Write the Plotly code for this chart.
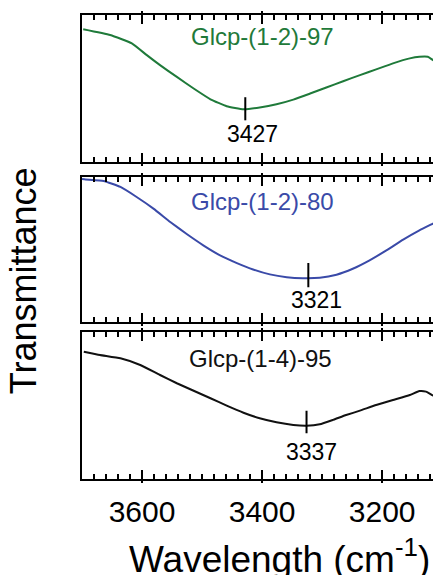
import plotly.graph_objects as go

# ---- data ----
wn_97 = [3698, 3653, 3617, 3592, 3570, 3542, 3514, 3486, 3459, 3431, 3404, 3376,
         3348, 3320, 3293, 3265, 3237, 3210, 3182, 3154, 3138, 3124, 3113, 3103]
t_97 = [90.3, 86.4, 80.7, 72.7, 65.9, 57.9, 50.0, 42.7, 38.0, 35.9, 37.1, 39.3,
        42.5, 46.6, 50.7, 55.0, 59.1, 63.0, 67.1, 70.5, 71.6, 71.6, 68.8, 68.2]

wn_80 = [3700, 3694, 3664, 3636, 3609, 3581, 3553, 3525, 3498, 3470, 3442, 3415,
         3387, 3359, 3332, 3304, 3276, 3249, 3221, 3193, 3165, 3138, 3110, 3103]
t_80 = [98.5, 98.2, 97.2, 93.1, 86.2, 78.2, 69.0, 60.5, 52.9, 46.0, 40.7, 36.3,
        32.9, 31.0, 30.3, 30.6, 32.7, 36.8, 42.6, 49.4, 56.8, 63.2, 69.0, 70.6]

wn_95 = [3697, 3670, 3636, 3603, 3570, 3542, 3514, 3486, 3459, 3431, 3404, 3376,
         3348, 3326, 3304, 3282, 3260, 3237, 3210, 3182, 3154, 3138, 3127, 3115, 3103]
t_95 = [86.4, 84.2, 81.9, 77.4, 70.6, 65.0, 59.9, 54.8, 49.8, 45.0, 41.2, 38.5,
        36.7, 36.2, 37.1, 40.1, 43.4, 46.4, 50.2, 53.6, 57.0, 59.7, 59.3, 56.6, 55.9]

sample_names = ["Glcp-(1-4)-95", "Glcp-(1-2)-80", "Glcp-(1-2)-97"]  # bottom, middle, top
peak_labels = ["3337", "3321", "3427"]
peak_pos = [3326, 3323, 3428]
peak_bar = [(31.0, 46.4), (24.1, 40.7), (28.4, 44.1)]
name_pos = [(3402, 82.1), (3399, 82.9), (3400, 85.7)]
label_pos = [(3317, 18.3), (3310, 15.0), (3416, 18.9)]
colors = ["#111111", "#3a4aa8", "#1f7a3a"]

x_range = [3700, 3102]
FONT = "Liberation Sans, Arial, sans-serif"

fig = go.Figure()
series = [(wn_95, t_95), (wn_80, t_80), (wn_97, t_97)]
domains = [[0.0, 0.3175], [0.338, 0.651], [0.683, 1.0]]

for i, (wx, ty) in enumerate(series):
    xs = "x" if i == 0 else f"x{i+1}"
    ys = "y" if i == 0 else f"y{i+1}"
    fig.add_trace(go.Scatter(x=wx, y=ty, mode="lines", xaxis=xs, yaxis=ys,
                             line=dict(color=colors[i], width=2, shape="spline", smoothing=0.4),
                             showlegend=False, hoverinfo="skip"))
    fig.add_trace(go.Scatter(x=[peak_pos[i], peak_pos[i]], y=list(peak_bar[i]), mode="lines",
                             xaxis=xs, yaxis=ys, line=dict(color="black", width=2),
                             showlegend=False, hoverinfo="skip"))
    fig.add_annotation(x=name_pos[i][0], y=name_pos[i][1], xref=xs, yref=ys,
                       text=sample_names[i], showarrow=False,
                       font=dict(family=FONT, size=24, color=colors[i]))
    fig.add_annotation(x=label_pos[i][0], y=label_pos[i][1], xref=xs, yref=ys,
                       text=peak_labels[i], showarrow=False,
                       font=dict(family=FONT, size=23, color="black"))

# page body has an 8px margin: the figure is sized so that it ends at the window edge
layout = dict(
    width=433, height=567,
    margin=dict(l=74, r=0, t=7, b=96),
    plot_bgcolor="white", paper_bgcolor="white",
    showlegend=False,
)
for i in range(3):
    xk = "xaxis" if i == 0 else f"xaxis{i+1}"
    yk = "yaxis" if i == 0 else f"yaxis{i+1}"
    xa = "x" if i == 0 else f"x{i+1}"
    ya = "y" if i == 0 else f"y{i+1}"
    layout[xk] = dict(
        range=x_range, anchor=ya, domain=[0, 1],
        showline=True, linecolor="black", linewidth=2, mirror="ticks",
        ticks="inside", ticklen=9, tickwidth=2, tickcolor="black",
        tickmode="linear", tick0=3200, dtick=200,
        showgrid=False, zeroline=False,
        minor=dict(ticks="inside", ticklen=5, tickwidth=1.5, tickcolor="black",
                   tick0=3200, dtick=20, showgrid=False),
        showticklabels=(i == 0),
        tickfont=dict(family=FONT, size=30, color="black"),
        ticklabelstandoff=5,
    )
    layout[yk] = dict(
        domain=domains[i], range=[0, 100], anchor=xa,
        showline=True, linecolor="black", linewidth=2, mirror=False,
        ticks="", showticklabels=False, showgrid=False, zeroline=False,
    )
    # short outside stubs of the major ticks
    layout[f"xaxis{i+4}"] = dict(
        range=x_range, anchor=ya, overlaying=xa, domain=[0, 1],
        showline=False, mirror="ticks", ticks="outside", ticklen=3, tickwidth=2,
        tickcolor="black", tickmode="linear", tick0=3200, dtick=200,
        showticklabels=False, showgrid=False, zeroline=False,
    )
fig.update_layout(**layout)
for i in range(3):
    fig.add_trace(go.Scatter(x=[None], y=[None], xaxis=f"x{i+4}",
                             yaxis="y" if i == 0 else f"y{i+1}",
                             showlegend=False, hoverinfo="skip"))

fig.add_annotation(x=0.549, y=-0.166, xref="paper", yref="paper",
                   text="Wavelength (cm<sup>-1</sup>)", showarrow=False,
                   xanchor="center", yanchor="middle",
                   font=dict(family=FONT, size=37, color="black"))
fig.add_annotation(x=-0.162, y=0.428, xref="paper", yref="paper",
                   text="Transmittance", showarrow=False, textangle=-90,
                   xanchor="center", yanchor="middle",
                   font=dict(family=FONT, size=36, color="black"))

fig.write_html("out.html")
